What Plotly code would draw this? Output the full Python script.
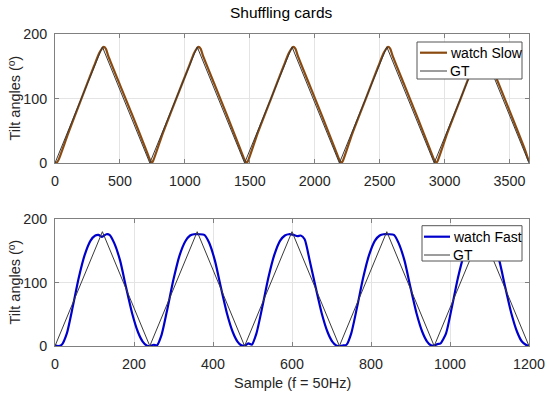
import plotly.graph_objects as go

# ---------------- data ----------------
title_text = "Shuffling cards"
ylabel_text = "Tilt angles (º)"
xlabel_text = "Sample (f = 50Hz)"

# Top panel (slow)
gt_slow_x = [0, 365, 730, 1095, 1460, 1825, 2190, 2555, 2920, 3285, 3650]
gt_slow_y = [0, 180, 0, 180, 0, 180, 0, 180, 0, 180, 0]

watch_slow_x = [0, 15, 30, 100, 200, 300, 340, 360, 375, 392, 410, 500, 600, 700, 725,
                737, 745, 755, 830, 930, 1030, 1070, 1090, 1105, 1122, 1140, 1230, 1330, 1430, 1455,
                1467, 1475, 1488, 1560, 1660, 1760, 1800, 1820, 1835, 1852, 1870, 1960, 2060, 2160, 2185,
                2197, 2205, 2218, 2290, 2390, 2490, 2530, 2550, 2565, 2582, 2600, 2690, 2790, 2890, 2915,
                2927, 2935, 2948, 3020, 3120, 3220, 3260, 3280, 3295, 3312, 3330, 3420, 3520, 3620, 3640, 3650]
watch_slow_y = [0, 1, 6, 45, 98, 150, 170, 177, 180, 177, 166, 121, 72, 21, 8,
                2, 0, 3, 46, 98, 149, 170, 177, 180, 177, 166, 121, 71, 20, 7,
                2, 0, 4, 46, 98, 150, 170, 177, 180, 177, 166, 121, 71, 20, 7,
                2, 0, 4, 46, 98, 150, 170, 177, 180, 177, 166, 121, 71, 20, 7,
                2, 0, 4, 46, 98, 150, 170, 177, 180, 177, 166, 121, 71, 20, 8, 3]

# Bottom panel (fast)
gt_fast_x = [0, 120, 240, 360, 480, 600, 720, 840, 960, 1080, 1200]
gt_fast_y = [0, 180, 0, 180, 0, 180, 0, 180, 0, 180, 0]

watch_fast_x = [0, 8, 17, 30, 45, 60, 75, 90, 102, 110, 119, 130, 138, 150, 165, 180, 195, 210, 222, 232,
                242, 250, 258, 270, 285, 300, 315, 330, 342, 352, 365, 378, 390, 405, 420, 435, 450, 462, 472,
                482, 490, 498, 510, 525, 540, 555, 570, 582, 592, 604, 614, 622, 632, 645, 660, 675, 690, 702, 712,
                722, 730, 738, 750, 765, 780, 795, 810, 822, 832, 845, 858, 870, 885, 900, 915, 930, 942, 952,
                960, 968, 976, 990, 1005, 1020, 1035, 1050, 1062, 1072, 1085, 1098, 1110, 1125, 1140, 1155, 1170, 1182, 1192, 1200]
watch_fast_y = [1, 0, 2, 20, 62, 107, 143, 166, 174, 175, 172, 176, 175, 162, 134, 92, 52, 22, 7, 1,
                0, 2, 1, 18, 60, 105, 142, 165, 174, 176, 176, 175, 163, 134, 92, 52, 22, 7, 1,
                1, 4, 2, 20, 62, 107, 143, 166, 174, 176, 175, 173, 174, 168, 134, 92, 52, 22, 7, 1,
                0, 1, 2, 20, 62, 107, 143, 166, 174, 176, 176, 175, 162, 134, 92, 52, 22, 7, 1,
                1, 3, 4, 20, 62, 107, 143, 166, 174, 176, 176, 175, 162, 134, 92, 52, 22, 7, 2, 0]

top_xticks = [0, 500, 1000, 1500, 2000, 2500, 3000, 3500]
bot_xticks = [0, 200, 400, 600, 800, 1000, 1200]
yticks = [0, 100, 200]

top_legend_names = ["watch Slow", "GT"]
bot_legend_names = ["watch Fast", "GT"]

# ---------------- figure ----------------
W, H = 550, 397


def px(x):
    return x / W


def py(y):
    return 1 - y / H


FONT = "Liberation Sans, Arial, Helvetica, sans-serif"
TXT = "#262626"
BROWN = "#8a4a10"
BLUE = "#0000cc"
GTC = "#3a3a3a"

fig = go.Figure()
fig.add_trace(go.Scatter(x=watch_slow_x, y=watch_slow_y, mode="lines", name=top_legend_names[0],
                         line=dict(color=BROWN, width=2.2, shape="spline", smoothing=0.6),
                         xaxis="x", yaxis="y"))
fig.add_trace(go.Scatter(x=gt_slow_x, y=gt_slow_y, mode="lines", name=top_legend_names[1],
                         line=dict(color=GTC, width=1), xaxis="x", yaxis="y"))
fig.add_trace(go.Scatter(x=watch_fast_x, y=watch_fast_y, mode="lines", name=bot_legend_names[0],
                         line=dict(color=BLUE, width=2.2, shape="spline", smoothing=0.6),
                         xaxis="x2", yaxis="y2"))
fig.add_trace(go.Scatter(x=gt_fast_x, y=gt_fast_y, mode="lines", name=bot_legend_names[1],
                         line=dict(color=GTC, width=1), xaxis="x2", yaxis="y2"))

xdom = [px(55), px(529)]
top_dom = [py(163), py(34)]
bot_dom = [py(346), py(219)]

axis_common = dict(showline=True, linecolor="#808080", linewidth=1, mirror="ticks",
                   ticks="inside", ticklen=4, tickcolor="#808080",
                   showgrid=True, gridcolor="#e4e4e4", gridwidth=1, zeroline=False,
                   tickfont=dict(family=FONT, size=14.3, color=TXT), automargin=False)

# legend boxes drawn as shapes + text (MATLAB-style compact legend)
shapes = []
annotations = []


def add_legend(box, entries):
    x0, y0, x1, y1 = box
    shapes.append(dict(type="rect", xref="paper", yref="paper",
                       x0=px(x0), x1=px(x1), y0=py(y1), y1=py(y0),
                       fillcolor="white", line=dict(color="#555555", width=1), layer="above"))
    for (name, color, width, lx0, lx1, ly) in entries:
        shapes.append(dict(type="line", xref="paper", yref="paper",
                           x0=px(lx0), x1=px(lx1), y0=py(ly), y1=py(ly),
                           line=dict(color=color, width=width), layer="above"))
        annotations.append(dict(text=name, x=px(lx1 + 1), y=py(ly), xref="paper", yref="paper",
                                xanchor="left", yanchor="middle", showarrow=False,
                                font=dict(family=FONT, size=14, color="black")))


add_legend((417, 42, 522, 79), [
    (top_legend_names[0], BROWN, 2.2, 420, 447, 52.7),
    (top_legend_names[1], GTC, 1, 420, 447, 71),
])
add_legend((422, 225.7, 522, 261), [
    (bot_legend_names[0], BLUE, 2.2, 424, 450, 236.7),
    (bot_legend_names[1], GTC, 1, 424, 450, 255),
])

annotations += [
    dict(text=title_text, x=px(281), y=py(12.5), xref="paper", yref="paper",
         xanchor="center", yanchor="middle", showarrow=False,
         font=dict(family=FONT, size=15.5, color="black")),
    dict(text=ylabel_text, x=px(14), y=(top_dom[0] + top_dom[1]) / 2, xref="paper", yref="paper",
         xanchor="center", yanchor="middle", showarrow=False, textangle=-90,
         font=dict(family=FONT, size=14.5, color=TXT)),
    dict(text=ylabel_text, x=px(14), y=(bot_dom[0] + bot_dom[1]) / 2, xref="paper", yref="paper",
         xanchor="center", yanchor="middle", showarrow=False, textangle=-90,
         font=dict(family=FONT, size=14.5, color=TXT)),
    dict(text=xlabel_text, x=px(292), y=py(383), xref="paper", yref="paper",
         xanchor="center", yanchor="middle", showarrow=False,
         font=dict(family=FONT, size=14.5, color=TXT)),
]

fig.update_layout(
    width=W, height=H,
    margin=dict(l=0, r=0, t=0, b=0),
    paper_bgcolor="white", plot_bgcolor="white",
    showlegend=False,
    hovermode=False,
    xaxis=dict(domain=xdom, anchor="y", range=[0, 3650], tickvals=top_xticks,
               ticklabelstandoff=5, **axis_common),
    yaxis=dict(domain=top_dom, anchor="x", range=[0, 200], tickvals=yticks,
               ticklabelstandoff=4, **axis_common),
    xaxis2=dict(domain=xdom, anchor="y2", range=[0, 1200], tickvals=bot_xticks,
                ticklabelstandoff=5, **axis_common),
    yaxis2=dict(domain=bot_dom, anchor="x2", range=[0, 200], tickvals=yticks,
                ticklabelstandoff=4, **axis_common),
    shapes=shapes,
    annotations=annotations,
)

# remove the default 8px page margin so the 550x397 figure fills the window exactly
fig.write_html("out.html",
               config={"displayModeBar": False, "staticPlot": True},
               post_script="document.body.style.margin='0px';document.body.style.overflow='hidden';")
